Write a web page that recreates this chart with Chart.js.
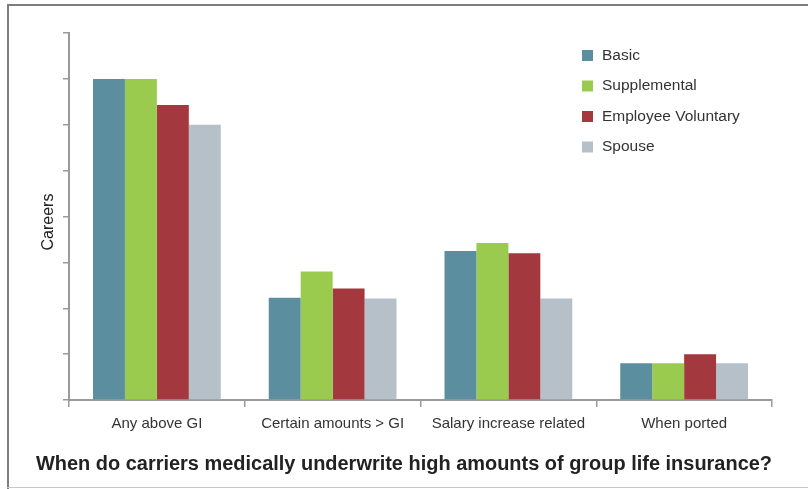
<!DOCTYPE html>
<html>
<head>
<meta charset="utf-8">
<script src="https://cdn.jsdelivr.net/npm/chart.js@4/dist/chart.umd.min.js"></script>
<style>
  html, body { margin: 0; padding: 0; background: #fff; }
  #wrap { position: relative; width: 808px; height: 489px; }
</style>
</head>
<body>
<div id="wrap"><canvas id="c" width="808" height="489"></canvas></div>
<script>
const categories = ["Any above GI", "Certain amounts > GI", "Salary increase related", "When ported"];
const seriesNames = ["Basic", "Supplemental", "Employee Voluntary", "Spouse"];
const basicValues = [70, 22.3, 32.5, 8];
const supplementalValues = [70, 28, 34.2, 8];
const employeeVoluntaryValues = [64.3, 24.3, 32, 10];
const spouseValues = [60, 22.1, 22.1, 8];
const seriesColors = ["#5b8fa0", "#9bcb4e", "#a3393e", "#b6c0c9"];
const yTickValues = [0, 10, 20, 30, 40, 50, 60, 70, 80];
const yAxisTitle = "Careers";
const chartTitle = "When do carriers medically underwrite high amounts of group life insurance?";

const FONT = "'Liberation Sans', Arial, sans-serif";

const framePlugin = {
  id: 'frame',
  beforeDraw(chart) {
    const ctx = chart.ctx;
    ctx.save();
    ctx.fillStyle = '#fff';
    ctx.fillRect(0, 0, chart.width, chart.height);
    ctx.fillStyle = '#7d7d7f';
    ctx.fillRect(7, 4, chart.width - 7, 2);
    ctx.fillRect(7, 4, 2, chart.height - 4);
    ctx.fillStyle = '#c8c8ca';
    ctx.fillRect(7, 487, chart.width - 7, 1);
    ctx.restore();
  }
};

const legendPlugin = {
  id: 'customLegend',
  afterDraw(chart) {
    const ctx = chart.ctx;
    ctx.save();
    ctx.font = "15.5px " + FONT;
    ctx.textBaseline = 'middle';
    chart.data.datasets.forEach((ds, i) => {
      const cy = 55.5 + i * 30.5;
      ctx.fillStyle = ds.backgroundColor;
      ctx.fillRect(582, cy - 5.5, 11, 11);
      ctx.fillStyle = '#333';
      ctx.fillText(ds.label, 602, cy);
    });
    // y axis title
    ctx.translate(49, 222);
    ctx.rotate(-Math.PI / 2);
    ctx.font = "16px " + FONT;
    ctx.textAlign = 'center';
    ctx.fillStyle = '#222';
    ctx.fillText(yAxisTitle, 0, 0);
    ctx.restore();
  }
};

const datasets = [basicValues, supplementalValues, employeeVoluntaryValues, spouseValues].map((vals, i) => ({
  label: seriesNames[i],
  data: vals,
  backgroundColor: seriesColors[i],
  borderWidth: 0,
  categoryPercentage: 0.727,
  barPercentage: 1.0
}));

new Chart(document.getElementById('c'), {
  type: 'bar',
  data: { labels: categories, datasets },
  options: {
    responsive: false,
    animation: false,
    layout: { padding: { left: 36, right: 36, top: 33, bottom: 0 } },
    plugins: {
      legend: { display: false },
      tooltip: { enabled: false },
      title: {
        display: true,
        text: chartTitle,
        position: 'bottom',
        align: 'start',
        color: '#222',
        font: { family: FONT, size: 20, weight: 'bold' },
        padding: { top: 8, bottom: 13 }
      }
    },
    scales: {
      x: {
        grid: { display: true, drawOnChartArea: false, drawTicks: true, tickLength: 7, color: '#9a9a9c', lineWidth: 1.5, offset: true },
        border: { display: true, color: '#9a9a9c', width: 2 },
        ticks: { color: '#333', font: { family: FONT, size: 15 }, padding: 8, maxRotation: 0, autoSkip: false },
        afterFit(scale) { scale.height = 44; }
      },
      y: {
        min: 0, max: 80,
        afterBuildTicks(scale) { scale.ticks = yTickValues.map(v => ({ value: v })); },
        grid: { display: true, drawOnChartArea: false, drawTicks: true, tickLength: 6, color: '#9a9a9c', lineWidth: 1.5 },
        border: { display: true, color: '#9a9a9c', width: 2 },
        ticks: { display: false },
        title: { display: false },
        afterFit(scale) { scale.width = 33; }
      }
    }
  },
  plugins: [framePlugin, legendPlugin]
});
</script>
</body>
</html>
